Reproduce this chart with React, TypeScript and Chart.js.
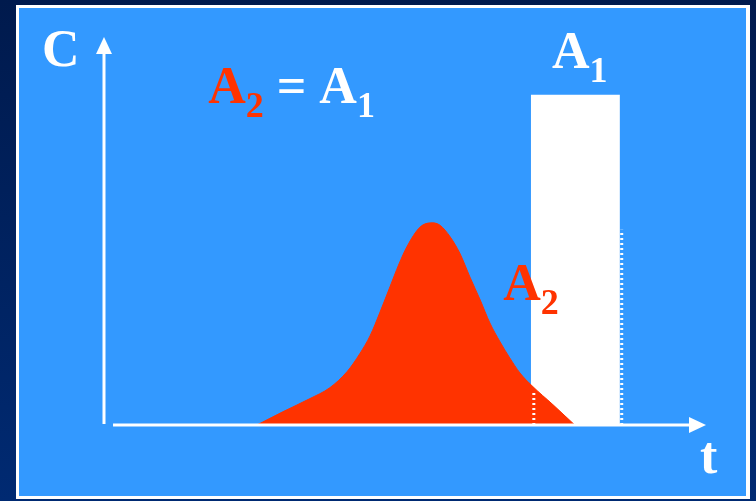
import React, { useEffect, useRef } from "react";
import { Chart, registerables } from "chart.js";

Chart.register(...registerables);

// Elution peak (t, C)
const peakT = [25.4, 29.7, 34.2, 37.5, 40.4, 42.5, 44.2, 45.8, 47.5, 49.0, 50.3, 52.5, 54.5, 55.8, 57.5, 59.1, 60.8, 62.5, 64.1, 65.8, 67.4, 69.1, 71.1, 74.6, 78.2];
const peakC = [0, 3.4, 6.8, 9.6, 13.8, 18.4, 23.0, 28.9, 35.6, 41.5, 45.9, 51.0, 52.1, 51.5, 48.5, 44.3, 38.1, 32.2, 26.3, 21.4, 17.3, 13.4, 10.1, 5.2, 0];

// Rectangular injection pulse A1
const pulseT = [70.9, 70.9, 85.7, 85.7];
const pulseC = [0, 85.1, 85.1, 0];

// Dotted guide lines
const dot1T = [71.4, 71.4];
const dot1C = [0, 9.0];
const dot2T = [86.0, 86.0];
const dot2C = [0, 50.3];

// Axis extents
const xAxisStart = 1.5;

type Part = { text: string; color: string; sub?: boolean };
type Label = { t: number; c: number; parts: Part[] };

const RED = "#ff3300";
const WHITE = "#ffffff";

const labels: Label[] = [
  { t: -10.3, c: 92.5, parts: [{ text: "C", color: WHITE }] },
  { t: 99.0, c: -12.4, parts: [{ text: "t", color: WHITE }] },
  { t: 74.4, c: 92.0, parts: [{ text: "A", color: WHITE }, { text: "1", color: WHITE, sub: true }] },
  {
    t: 17.3,
    c: 83.0,
    parts: [
      { text: "A", color: RED },
      { text: "2", color: RED, sub: true },
      { text: " = ", color: WHITE },
      { text: "A", color: WHITE },
      { text: "1", color: WHITE, sub: true },
    ],
  },
  { t: 66.3, c: 32.2, parts: [{ text: "A", color: RED }, { text: "2", color: RED, sub: true }] },
];

const zip = (xs: number[], ys: number[]) => xs.map((x, i) => ({ x, y: ys[i] }));

export default function App() {
  const ref = useRef<HTMLCanvasElement | null>(null);

  useEffect(() => {
    const canvas = ref.current;
    if (!canvas) return;

    const background = {
      id: "panel",
      beforeDraw(chart: any) {
        const { ctx, width, height } = chart;
        ctx.save();
        const g = ctx.createLinearGradient(0, 0, 0, height);
        g.addColorStop(0, "#001a4d");
        g.addColorStop(1, "#002a72");
        ctx.fillStyle = g;
        ctx.fillRect(0, 0, width, height);
        ctx.fillStyle = "#ffffff";
        ctx.fillRect(16, 5, 734, 494);
        ctx.fillStyle = "#3399ff";
        ctx.fillRect(19, 8, 727, 488);
        ctx.restore();
      },
      afterDatasetsDraw(chart: any) {
        const { ctx } = chart;
        const xs = chart.scales.x;
        const ys = chart.scales.y;
        const x0 = xs.getPixelForValue(0);
        const y0 = ys.getPixelForValue(0);
        const yTop = ys.getPixelForValue(100);
        const xEnd = xs.getPixelForValue(100);
        const xStart = xs.getPixelForValue(xAxisStart);
        ctx.save();
        ctx.strokeStyle = "#ffffff";
        ctx.fillStyle = "#ffffff";
        ctx.lineWidth = 3;
        ctx.beginPath();
        ctx.moveTo(x0, y0 - 1);
        ctx.lineTo(x0, yTop + 15);
        ctx.stroke();
        ctx.beginPath();
        ctx.moveTo(x0, yTop);
        ctx.lineTo(x0 - 8, yTop + 17);
        ctx.lineTo(x0 + 8, yTop + 17);
        ctx.closePath();
        ctx.fill();
        ctx.beginPath();
        ctx.moveTo(xStart, y0);
        ctx.lineTo(xEnd - 15, y0);
        ctx.stroke();
        ctx.beginPath();
        ctx.moveTo(xEnd, y0);
        ctx.lineTo(xEnd - 17, y0 - 8);
        ctx.lineTo(xEnd - 17, y0 + 8);
        ctx.closePath();
        ctx.fill();
        ctx.restore();
      },
      afterDraw(chart: any) {
        const { ctx } = chart;
        const xs = chart.scales.x;
        const ys = chart.scales.y;
        ctx.save();
        ctx.textAlign = "left";
        ctx.textBaseline = "alphabetic";
        for (const lab of labels) {
          let px = xs.getPixelForValue(lab.t);
          const py = ys.getPixelForValue(lab.c);
          for (const p of lab.parts) {
            ctx.font = p.sub ? "bold 36px 'Liberation Serif'" : "bold 52px 'Liberation Serif'";
            ctx.fillStyle = p.color;
            ctx.fillText(p.text, px, p.sub ? py + 14 : py);
            px += ctx.measureText(p.text).width;
          }
        }
        ctx.restore();
      },
    };

    const chart = new Chart(canvas, {
      type: "line",
      data: {
        datasets: [
          {
            data: zip(dot1T, dot1C),
            borderColor: "#ffffff",
            borderWidth: 3,
            borderDash: [2, 3],
            pointRadius: 0,
            fill: false,
            order: 1,
          },
          {
            data: zip(dot2T, dot2C),
            borderColor: "#ffffff",
            borderWidth: 3,
            borderDash: [2, 3],
            pointRadius: 0,
            fill: false,
            order: 1,
          },
          {
            data: zip(peakT, peakC),
            borderColor: RED,
            borderWidth: 1,
            backgroundColor: RED,
            pointRadius: 0,
            fill: "origin",
            cubicInterpolationMode: "monotone",
            order: 2,
          },
          {
            data: zip(pulseT, pulseC),
            borderWidth: 0,
            borderColor: "#ffffff",
            backgroundColor: "#ffffff",
            pointRadius: 0,
            tension: 0,
            fill: "origin",
            order: 3,
          },
        ],
      },
      options: {
        animation: false,
        responsive: false,
        events: [],
        layout: { padding: { left: 104, right: 50, top: 37, bottom: 76 } },
        scales: {
          x: { type: "linear", min: 0, max: 100, display: false },
          y: { type: "linear", min: 0, max: 100, display: false },
        },
        plugins: { legend: { display: false }, tooltip: { enabled: false } },
      },
      plugins: [background],
    } as any);

    return () => chart.destroy();
  }, []);

  return (
    <div style={{ position: "fixed", left: 0, top: 0, width: 756, height: 501 }}>
      <canvas ref={ref} width={756} height={501} style={{ display: "block", width: 756, height: 501 }} />
    </div>
  );
}
